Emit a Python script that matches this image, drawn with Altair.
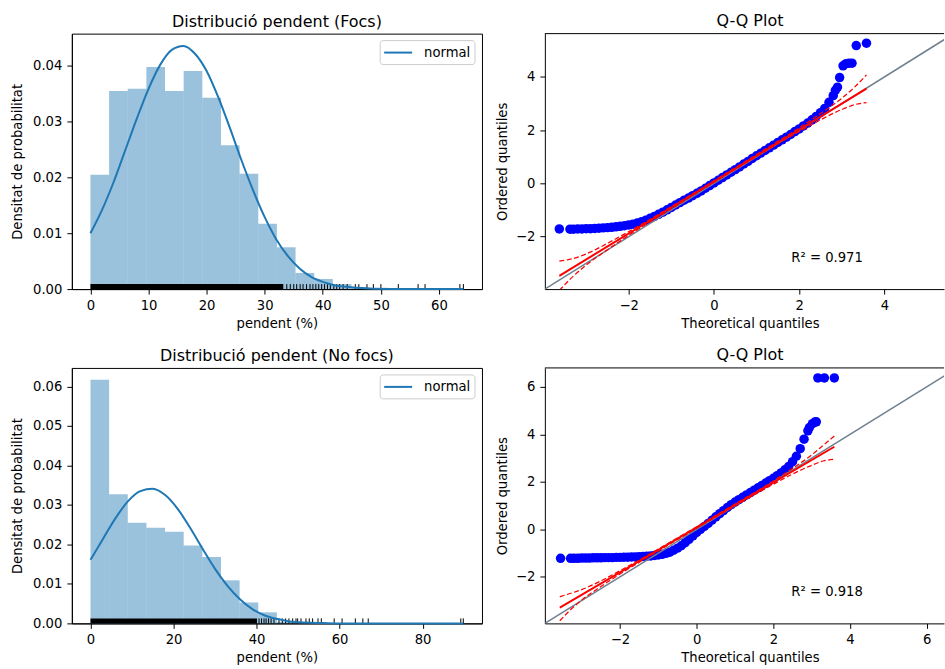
import altair as alt
import pandas as pd

FONT = "DejaVu Sans"

# ---------------- Histogram "Focs" ----------------
focs_bin_edges = [0, 3.21, 6.42, 9.63, 12.84, 16.05, 19.26, 22.47, 25.68, 28.89, 32.1,
                  35.31, 38.52, 41.73, 44.94, 48.15, 51.36, 54.57, 57.78, 60.99, 64.2]
focs_density = [0.0205, 0.0355, 0.0359, 0.0398, 0.0355, 0.0391, 0.0343, 0.0258, 0.0207, 0.0117,
                0.0075, 0.0029, 0.0018, 0.0009, 0.0003, 0.0001, 0.0001, 0.0001, 0.0, 0.0001]
focs_curve_x = [0, 2, 4, 6, 8, 10, 12, 14, 16, 18, 20, 22, 24, 26, 28, 30, 32, 34, 36, 38,
                40, 42, 44, 48, 52, 56, 60, 64.2]
focs_curve_y = [0.0100, 0.0142, 0.0192, 0.0249, 0.0306, 0.0359, 0.0402, 0.0429, 0.0436, 0.0422,
                0.0391, 0.0344, 0.0289, 0.0231, 0.0177, 0.0129, 0.0089, 0.0059, 0.0037, 0.0022,
                0.0013, 0.0007, 0.0004, 0.0001, 0.00002, 0.0, 0.0, 0.0]
focs_rug_dense = [0, 33.2]
focs_rug = [33.8, 34.4, 35.0, 35.5, 36.1, 36.6, 37.2, 37.8, 38.3, 38.8, 39.3, 39.8, 40.3, 40.8,
            41.3, 41.9, 42.4, 42.9, 43.5, 44.2, 45.6, 46.2, 47.6, 48.7, 50.0, 53.0, 56.4, 57.6,
            63.6, 64.2]

# ---------------- Histogram "No focs" ----------------
nofocs_bin_edges = [0, 4.49, 8.98, 13.47, 17.96, 22.45, 26.94, 31.43, 35.92, 40.41, 44.9,
                    49.39, 53.88, 58.37, 62.86, 67.35, 71.84, 76.33, 80.82, 85.31, 89.8]
nofocs_density = [0.0617, 0.0327, 0.0255, 0.0242, 0.0232, 0.0197, 0.0168, 0.0109, 0.0053, 0.0028,
                  0.0004, 0.0002, 0.0001, 0.0001, 0.00005, 0.00003, 0.0, 0.0, 0.0, 0.00001]
nofocs_curve_x = [0, 3, 6, 9, 12, 15, 18, 21, 24, 27, 30, 33, 36, 39, 42, 45, 48, 52, 56, 60,
                  70, 80, 89.8]
nofocs_curve_y = [0.0161, 0.0214, 0.0266, 0.0309, 0.0335, 0.0341, 0.0325, 0.0290, 0.0242, 0.0189,
                  0.0138, 0.0095, 0.0061, 0.0036, 0.0020, 0.0011, 0.0005, 0.0002, 0.0001, 0.0,
                  0.0, 0.0, 0.0]
nofocs_rug_dense = [0, 40.1]
nofocs_rug = [40.6, 41.2, 41.8, 42.3, 42.9, 43.5, 44.2, 45.4, 46.2, 47.0, 47.8, 48.7, 49.5, 49.9,
              50.7, 51.9, 52.7, 53.5, 54.8, 55.6, 58.7, 60.6, 63.8, 65.6, 66.9, 89.2, 89.8]

legend_label = ["normal"]

# ---------------- Q-Q "Focs" ----------------
qq_focs_theor = [-3.63, -3.38, -3.3, -3.2, -3.1, -3.0, -2.9, -2.8, -2.7, -2.6, -2.5, -2.4, -2.3,
                 -2.2, -2.1, -2.0, -1.9, -1.8, -1.7, -1.6, -1.5, -1.4, -1.3, -1.2, -1.1, -1.0,
                 -0.9, -0.8, -0.7, -0.6, -0.5, -0.4, -0.3, -0.2, -0.1, 0.0, 0.1, 0.2, 0.3, 0.4,
                 0.5, 0.6, 0.7, 0.8, 0.9, 1.0, 1.1, 1.2, 1.3, 1.4, 1.5, 1.6, 1.7, 1.8, 1.9, 2.0,
                 2.1, 2.2, 2.3, 2.4, 2.5, 2.6, 2.7, 2.8, 2.85, 2.9, 2.95, 3.03, 3.1, 3.17, 3.24,
                 3.34, 3.58]
qq_focs_obs = [-1.71, -1.72, -1.72, -1.71, -1.71, -1.70, -1.70, -1.69, -1.68, -1.67, -1.66, -1.65,
               -1.63, -1.61, -1.59, -1.56, -1.53, -1.49, -1.44, -1.38, -1.31, -1.24, -1.16, -1.08,
               -0.99, -0.90, -0.81, -0.72, -0.63, -0.55, -0.46, -0.37, -0.28, -0.18, -0.08, 0.02,
               0.12, 0.22, 0.32, 0.42, 0.52, 0.62, 0.73, 0.83, 0.94, 1.04, 1.14, 1.24, 1.34, 1.44,
               1.54, 1.64, 1.74, 1.84, 1.95, 2.05, 2.16, 2.27, 2.39, 2.52, 2.66, 2.82, 3.05, 3.30,
               3.50, 3.62, 3.98, 4.42, 4.50, 4.52, 4.52, 5.18, 5.27]
qq_focs_fit_x = [-3.63, 3.58]
qq_focs_fit_y = [-3.47, 3.56]
qq_focs_band_x = [-3.63, -3.3, -3.0, -2.5, -2.0, -1.0, 0.0, 1.0, 2.0, 2.5, 3.0, 3.3, 3.58]
qq_focs_band_upper = [-2.92, -2.82, -2.65, -2.25, -1.81, -0.87, 0.10, 1.09, 2.09, 2.63, 3.20, 3.62, 4.08]
qq_focs_band_lower = [-4.02, -3.48, -3.07, -2.49, -1.95, -0.95, 0.04, 1.01, 1.95, 2.39, 2.78, 2.96, 3.04]
qq_focs_lims = [-3.97, 5.63]
qq_focs_xview = [-3.97, 5.40]
qq_focs_r2 = 0.971

# ---------------- Q-Q "No focs" ----------------
qq_nofocs_theor = [-3.55, -3.29, -3.2, -3.1, -3.0, -2.9, -2.8, -2.7, -2.6, -2.5, -2.4, -2.3, -2.2,
                   -2.1, -2.0, -1.9, -1.8, -1.7, -1.6, -1.5, -1.4, -1.3, -1.2, -1.1, -1.0, -0.9,
                   -0.8, -0.7, -0.6, -0.5, -0.4, -0.3, -0.2, -0.1, 0.0, 0.1, 0.2, 0.3, 0.4, 0.5,
                   0.6, 0.7, 0.8, 0.9, 1.0, 1.1, 1.2, 1.3, 1.4, 1.5, 1.6, 1.7, 1.8, 1.9, 2.0, 2.1,
                   2.2, 2.3, 2.4, 2.5, 2.6, 2.7, 2.8, 2.9, 2.94, 3.02, 3.08, 3.12, 3.16, 3.33, 3.59]
qq_nofocs_obs = [-1.22, -1.22, -1.22, -1.22, -1.21, -1.21, -1.21, -1.20, -1.20, -1.20, -1.19, -1.19,
                 -1.19, -1.18, -1.18, -1.17, -1.17, -1.16, -1.16, -1.15, -1.14, -1.13, -1.12, -1.10,
                 -1.08, -1.05, -1.01, -0.96, -0.88, -0.79, -0.69, -0.56, -0.42, -0.28, -0.13, 0.0,
                 0.12, 0.25, 0.39, 0.53, 0.66, 0.79, 0.92, 1.04, 1.15, 1.25, 1.35, 1.45, 1.55, 1.65,
                 1.75, 1.85, 1.95, 2.05, 2.15, 2.26, 2.38, 2.51, 2.65, 2.85, 3.08, 3.40, 3.80, 4.15,
                 4.29, 4.45, 4.52, 4.53, 6.38, 6.38, 6.38]
qq_nofocs_fit_x = [-3.57, 3.59]
qq_nofocs_fit_y = [-3.30, 3.48]
qq_nofocs_band_x = [-3.57, -3.3, -3.0, -2.5, -2.0, -1.0, 0.0, 1.0, 2.0, 2.5, 3.0, 3.3, 3.59]
qq_nofocs_band_upper = [-2.84, -2.70, -2.54, -2.17, -1.74, -0.83, 0.11, 1.07, 2.04, 2.57, 3.14, 3.54, 3.93]
qq_nofocs_band_lower = [-3.85, -3.40, -2.98, -2.41, -1.88, -0.91, 0.05, 0.99, 1.90, 2.33, 2.70, 2.88, 2.95]
qq_nofocs_lims = [-3.96, 6.80]
qq_nofocs_xview = [-3.96, 6.45]
qq_nofocs_r2 = 0.918

# ---------------- layout / style ----------------
HIST_W, QQ_W, H = 411, 400, 256
TXT = 13.2
TTL = 16
BLUE = "#1f77b4"


def title_params(text, dx=0):
    return alt.TitleParams(text=text, fontSize=TTL, fontWeight="normal", font=FONT,
                           color="black", anchor="middle", offset=4, dx=dx)


def hist_panel(edges, dens, cx, cy, dense, rug, title, xdom, ydom, xticks, yticks):
    hist_df = pd.DataFrame({"x0": edges[:-1], "x1": edges[1:], "d": dens, "base": 0.0})
    curve_df = pd.DataFrame({"x": cx, "y": cy})
    rug_df = pd.DataFrame({"x": rug})
    dense_df = pd.DataFrame({"x0": [dense[0]], "x1": [dense[1]]})
    leg_df = pd.DataFrame({"label": legend_label})

    xs = alt.Scale(domain=xdom, nice=False, zero=False)
    ys = alt.Scale(domain=ydom, nice=False, zero=False)
    xax = alt.Axis(values=xticks, format="d", title="pendent (%)")
    yax = alt.Axis(values=yticks, format=".2f", title="Densitat de probabilitat",
                   titlePadding=8)

    def X(f):
        return alt.X(f, scale=xs, axis=xax)

    def Y(f):
        return alt.Y(f, scale=ys, axis=yax)

    bars = alt.Chart(hist_df).mark_rect(color=BLUE, opacity=0.45).encode(
        x=X("x0:Q"), x2="x1:Q", y=Y("d:Q"), y2="base:Q")
    band = alt.Chart(dense_df).mark_rect(color="black").encode(
        x=X("x0:Q"), x2="x1:Q", y=alt.value(H - 5), y2=alt.value(H))
    ticks = alt.Chart(rug_df).mark_rule(color="black", strokeWidth=1).encode(
        x=X("x:Q"), y=alt.value(H - 5), y2=alt.value(H))
    curve = alt.Chart(curve_df).mark_line(color=BLUE, strokeWidth=2,
                                          interpolate="monotone").encode(
        x=X("x:Q"), y=Y("y:Q"))
    # legend box (matplotlib style, upper right)
    leg_box = alt.Chart(leg_df).mark_rect(fill="white", fillOpacity=0.8, stroke="#cccccc",
                                          strokeWidth=1, cornerRadius=3).encode(
        x=alt.value(HIST_W - 102), x2=alt.value(HIST_W - 7),
        y=alt.value(7), y2=alt.value(31))
    leg_line = alt.Chart(leg_df).mark_rule(color=BLUE, strokeWidth=2).encode(
        x=alt.value(HIST_W - 98), x2=alt.value(HIST_W - 70), y=alt.value(19))
    leg_text = alt.Chart(leg_df).mark_text(align="left", baseline="middle", fontSize=TXT,
                                           font=FONT, color="black").encode(
        text="label:N", x=alt.value(HIST_W - 58), y=alt.value(19.5))
    return alt.layer(bars, band, ticks, curve, leg_box, leg_line, leg_text).properties(
        width=HIST_W, height=H, title=title_params(title),
        view=alt.ViewBackground(stroke="black", strokeWidth=1))


def qq_panel(theor, obs, fx, fy, bx, bu, bl, lims, xview, ticks, r2):
    pts_df = pd.DataFrame({"t": theor, "o": obs})
    diag_df = pd.DataFrame({"v": lims})
    fit_df = pd.DataFrame({"x": fx, "y": fy})
    band_df = pd.DataFrame({"x": bx, "up": bu, "lo": bl})
    txt_df = pd.DataFrame({"s": ["R² = %.3f" % r2]})

    xs = alt.Scale(domain=xview, nice=False, zero=False)
    ys = alt.Scale(domain=lims, nice=False, zero=False)
    xax = alt.Axis(values=ticks, title="Theoretical quantiles", titleX=205.5)
    yax = alt.Axis(values=ticks, title="Ordered quantiles", titlePadding=6)

    def X(f):
        return alt.X(f, scale=xs, axis=xax)

    def Y(f):
        return alt.Y(f, scale=ys, axis=yax)

    pts = alt.Chart(pts_df).mark_circle(color="blue", size=90, opacity=1, clip=True).encode(
        x=X("t:Q"), y=Y("o:Q"))
    diag = alt.Chart(diag_df).mark_line(color="#708090", strokeWidth=1.5, clip=True).encode(
        x=X("v:Q"), y=Y("v:Q"))
    fit = alt.Chart(fit_df).mark_line(color="red", strokeWidth=2, clip=True).encode(
        x=X("x:Q"), y=Y("y:Q"))
    up = alt.Chart(band_df).mark_line(color="red", strokeWidth=1.25, strokeDash=[5, 2.5],
                                      interpolate="monotone", clip=True).encode(
        x=X("x:Q"), y=Y("up:Q"))
    lo = alt.Chart(band_df).mark_line(color="red", strokeWidth=1.25, strokeDash=[5, 2.5],
                                      interpolate="monotone", clip=True).encode(
        x=X("x:Q"), y=Y("lo:Q"))
    txt = alt.Chart(txt_df).mark_text(align="left", baseline="alphabetic", fontSize=TXT,
                                      font=FONT, color="black").encode(
        text="s:N", x=alt.value(247), y=alt.value(229))
    top = alt.Chart(txt_df).mark_rule(color="black", strokeWidth=1).encode(
        x=alt.value(0), x2=alt.value(QQ_W), y=alt.value(0))
    return alt.layer(pts, diag, fit, up, lo, txt, top).properties(
        width=QQ_W, height=H, title=title_params("Q-Q Plot", dx=5.5),
        view=alt.ViewBackground(stroke=None))


tl = hist_panel(focs_bin_edges, focs_density, focs_curve_x, focs_curve_y, focs_rug_dense,
                focs_rug, "Distribució pendent (Focs)", [-3.2, 67.4], [0, 0.0458],
                [0, 10, 20, 30, 40, 50, 60], [0, 0.01, 0.02, 0.03, 0.04])
bl = hist_panel(nofocs_bin_edges, nofocs_density, nofocs_curve_x, nofocs_curve_y,
                nofocs_rug_dense, nofocs_rug, "Distribució pendent (No focs)", [-4.49, 94.3],
                [0, 0.0647], [0, 20, 40, 60, 80], [0, 0.01, 0.02, 0.03, 0.04, 0.05, 0.06])
tr = qq_panel(qq_focs_theor, qq_focs_obs, qq_focs_fit_x, qq_focs_fit_y, qq_focs_band_x,
              qq_focs_band_upper, qq_focs_band_lower, qq_focs_lims, qq_focs_xview,
              [-2, 0, 2, 4], qq_focs_r2)
br = qq_panel(qq_nofocs_theor, qq_nofocs_obs, qq_nofocs_fit_x, qq_nofocs_fit_y,
              qq_nofocs_band_x, qq_nofocs_band_upper, qq_nofocs_band_lower, qq_nofocs_lims,
              qq_nofocs_xview, [-2, 0, 2, 4, 6], qq_nofocs_r2)

row1 = alt.hconcat(tl, tr, spacing=12)
row2 = alt.hconcat(bl, br, spacing=12)

chart = (
    alt.vconcat(row1, row2, spacing=17)
    .properties(padding={"left": 10, "top": 12, "right": 0, "bottom": 0})
    .configure(font=FONT)
    .configure_axis(labelFontSize=TXT, titleFontSize=TXT, titleFontWeight="normal",
                    labelFont=FONT, titleFont=FONT, labelColor="black", titleColor="black",
                    tickColor="black", domainColor="black", tickSize=5, tickWidth=1,
                    domainWidth=1, grid=False, labelFlush=False, labelOverlap=False)
    .configure_axisX(labelPadding=5, titlePadding=6)
    .configure_axisY(labelPadding=5)
)

chart.save("out.html", embed_options={"renderer": "svg", "actions": False})
